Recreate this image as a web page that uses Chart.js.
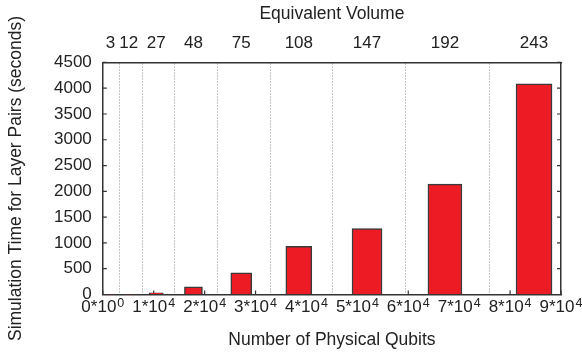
<!DOCTYPE html>
<html>
<head>
<meta charset="utf-8">
<script src="https://cdn.jsdelivr.net/npm/chart.js@4"></script>
<style>
  html, body { margin: 0; padding: 0; background: #fff; }
  #wrap { width: 582px; height: 354px; }
</style>
</head>
<body>
<div id="wrap"><canvas id="myChart"></canvas></div>
<script>
// physical qubits (bottom axis) and equivalent volume (top axis) of each run
var qubits  = [1500, 5100, 10500, 17800, 27200, 38500, 51900, 67200, 84700];
var volumes = [3, 12, 27, 48, 75, 108, 147, 192, 243];
// simulation time for layer pairs, seconds
var times   = [0.5, 2, 32, 147, 418, 934, 1277, 2140, 4085];
// bottom tick values, mantissa and exponent of the labels
var qubitTicks = [0, 1e4, 2e4, 3e4, 4e4, 5e4, 6e4, 7e4, 8e4, 9e4];
var tickMant = ['0', '1', '2', '3', '4', '5', '6', '7', '8', '9'];
var tickExp  = ['0', '4', '4', '4', '4', '4', '4', '4', '4', '4'];
var yTicks = [0, 500, 1000, 1500, 2000, 2500, 3000, 3500, 4000, 4500];

// bar widths grow with the run (px)
var barWidths = [8, 11, 14, 18, 21, 26, 30, 34, 36];

var fam = '"Liberation Sans", Arial, Helvetica, sans-serif';
Chart.defaults.font.family = fam;
Chart.defaults.font.size = 17;
Chart.defaults.color = '#222';

var frame = '#333';
var titleFont = { size: 17.5 };

// small inward ticks on the frame, drawn under the bars
var innerTicks = {
  id: 'innerTicks',
  beforeDatasetsDraw: function(chart) {
    var c = chart.ctx, a = chart.chartArea;
    var xs = chart.scales.x, ys = chart.scales.y;
    c.save();
    c.strokeStyle = frame;
    c.lineWidth = 1.2;
    c.beginPath();
    yTicks.forEach(function(v) {
      var p = ys.getPixelForValue(v);
      c.moveTo(a.left, p); c.lineTo(a.left + 4, p);
      c.moveTo(a.right, p); c.lineTo(a.right - 4, p);
    });
    qubitTicks.forEach(function(v) {
      var p = xs.getPixelForValue(v);
      c.moveTo(p, a.bottom); c.lineTo(p, a.bottom - 4);
    });
    c.stroke();
    c.restore();
  }
};

// bottom labels like 1*10^4 with a real superscript
var powerLabels = {
  id: 'powerLabels',
  afterDraw: function(chart) {
    var c = chart.ctx, a = chart.chartArea, xs = chart.scales.x;
    var base = a.bottom + 17.6;
    c.save();
    c.fillStyle = '#222';
    c.textBaseline = 'alphabetic';
    c.textAlign = 'left';
    qubitTicks.forEach(function(v, i) {
      var main = tickMant[i] + '*10';
      c.font = '17px ' + fam;
      var w1 = c.measureText(main).width;
      c.font = '12.5px ' + fam;
      var w2 = c.measureText(tickExp[i]).width;
      var x0 = xs.getPixelForValue(v) - (w1 + 1 + w2) / 2;
      c.font = '17px ' + fam;
      c.fillText(main, x0, base);
      c.font = '12.5px ' + fam;
      c.fillText(tickExp[i], x0 + w1 + 1, base - 5);
    });
    c.restore();
  }
};

var ctx = document.getElementById('myChart').getContext('2d');
var myChart = new Chart(ctx, {
  type: 'bar',
  data: {
    datasets: qubits.map(function(q, i) {
      return {
        data: [{x: q, y: times[i]}],
        backgroundColor: 'rgb(237, 28, 36)',
        borderColor: '#3a3a3a',
        borderWidth: 1.5,
        barThickness: barWidths[i],
        grouped: false,
        xAxisID: 'x',
        yAxisID: 'y'
      };
    })
  },
  options: {
    responsive: true,
    maintainAspectRatio: false,
    animation: false,
    layout: { padding: { left: 0, right: 21, top: 0, bottom: 0 } },
    plugins: {
      legend: { display: false },
      tooltip: { enabled: false }
    },
    scales: {
      x: {
        type: 'linear',
        position: 'bottom',
        min: 0,
        max: 90000,
        offset: false,
        ticks: { display: false },
        grid: { display: true, drawOnChartArea: false, drawTicks: false, offset: false },
        border: { color: frame, width: 1.5 },
        title: {
          display: true,
          text: 'Number of Physical Qubits',
          font: titleFont,
          padding: { top: 35, bottom: 3.5 },
          color: '#222'
        }
      },
      x2: {
        type: 'linear',
        position: 'top',
        min: 0,
        max: 90000,
        offset: false,
        afterBuildTicks: function(s) {
          s.ticks = qubits.map(function(v) { return {value: v}; });
        },
        ticks: {
          padding: 8.5,
          maxRotation: 0,
          autoSkip: false,
          color: '#222',
          callback: function(v) {
            var i = qubits.indexOf(v);
            return i >= 0 ? String(volumes[i]) : '';
          }
        },
        grid: { display: true, drawOnChartArea: true, drawTicks: false, color: '#8a8a8a', lineWidth: 1 },
        border: { color: frame, width: 1.5, dash: [1, 2] },
        title: {
          display: true,
          text: 'Equivalent Volume',
          font: titleFont,
          padding: { top: 4, bottom: 0 },
          color: '#222'
        }
      },
      y: {
        type: 'linear',
        position: 'left',
        min: 0,
        max: 4500,
        afterBuildTicks: function(s) {
          s.ticks = yTicks.map(function(v) { return {value: v}; });
        },
        ticks: { padding: 11, color: '#222', callback: function(v) { return String(v); } },
        grid: { display: true, drawOnChartArea: false, drawTicks: false },
        border: { color: frame, width: 1.5 },
        title: {
          display: true,
          text: 'Simulation Time for Layer Pairs (seconds)',
          font: titleFont,
          padding: { top: 6, bottom: 16 },
          color: '#222'
        }
      },
      y2: {
        type: 'linear',
        position: 'right',
        min: 0,
        max: 4500,
        ticks: { display: false },
        grid: { display: true, drawOnChartArea: false, drawTicks: false },
        border: { color: frame, width: 1.5 }
      }
    }
  },
  plugins: [innerTicks, powerLabels]
});
</script>
</body>
</html>
